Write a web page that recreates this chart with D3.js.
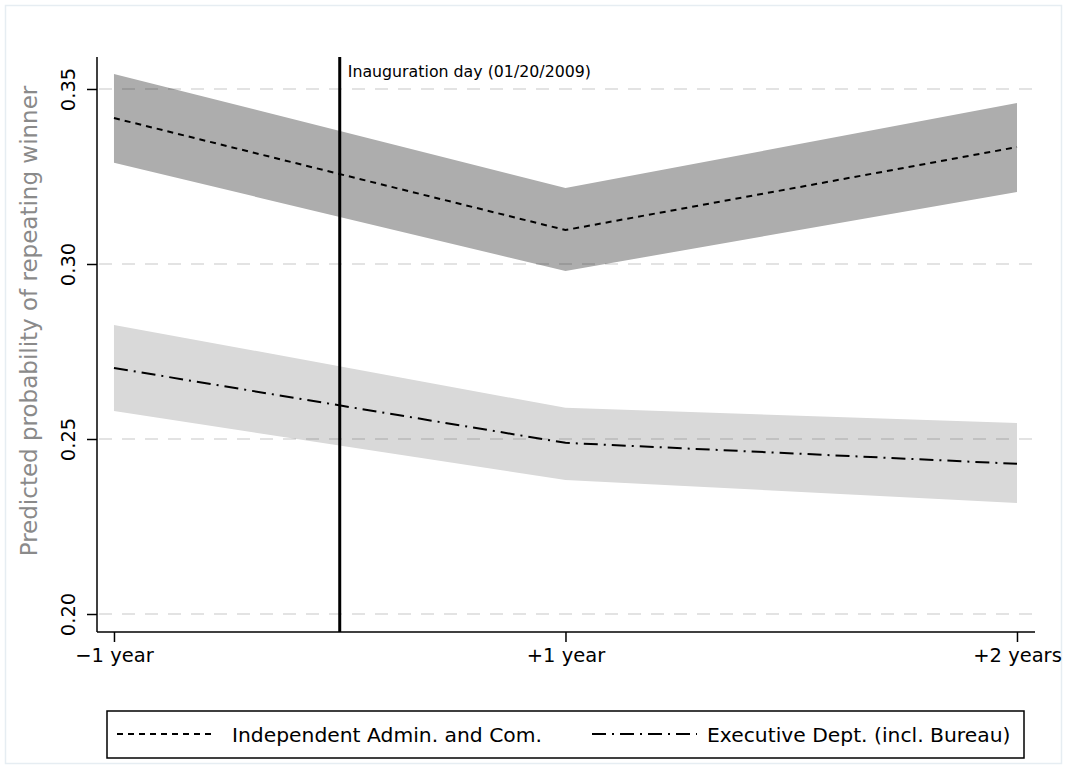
<!DOCTYPE html>
<html>
<head>
<meta charset="utf-8">
<script src="https://cdn.jsdelivr.net/npm/d3@7"></script>
<style>
  html, body { margin: 0; padding: 0; background: #ffffff; }
  svg { display: block; font-family: "DejaVu Sans", Verdana, sans-serif; }
</style>
</head>
<body>
<svg id="chart" width="1067" height="769"></svg>
<script>
// ---- data ----
const categories = ["\u22121 year", "+1 year", "+2 years"];
const catPos = [0, 1, 2];
const indepMean = [0.3417, 0.3097, 0.3334];
const indepLow  = [0.3289, 0.2980, 0.3206];
const indepHigh = [0.3543, 0.3217, 0.3460];
const execMean  = [0.2703, 0.2489, 0.2429];
const execLow   = [0.2580, 0.2383, 0.2317];
const execHigh  = [0.2826, 0.2589, 0.2546];
const yTicks = [0.20, 0.25, 0.30, 0.35];
const inaugPos = 0.5;
const inaugLabel = "Inauguration day (01/20/2009)";
const yTitle = "Predicted probability of repeating winner";
const legendLabels = ["Independent Admin. and Com.", "Executive Dept. (incl. Bureau)"];

// ---- layout ----
const svg = d3.select("#chart");
const plotL = 97, plotR = 1035, plotT = 57, plotB = 632;

const x = d3.scaleLinear().domain([-0.0376, 2.0399]).range([plotL, plotR]);
const y = d3.scaleLinear().domain([0.19486, 0.35914]).range([plotB, plotT]);

// outer frame
svg.append("rect").attr("x", 5.5).attr("y", 5.5).attr("width", 1056).attr("height", 758)
  .attr("fill", "#ffffff").attr("stroke", "#e6edf2").attr("stroke-width", 1.5);

const area = (lo, hi) => d3.area()
  .x((d, i) => x(catPos[i]))
  .y0((d, i) => y(lo[i]))
  .y1((d, i) => y(hi[i]))(catPos);

const line = (vals) => d3.line()
  .x((d, i) => x(catPos[i]))
  .y((d, i) => y(vals[i]))(catPos);

// bands
svg.append("path").attr("d", area(indepLow, indepHigh)).attr("fill", "#adadad");
svg.append("path").attr("d", area(execLow, execHigh)).attr("fill", "#d9d9d9");

// grid
svg.append("g").selectAll("line").data(yTicks).join("line")
  .attr("x1", plotL + 2).attr("x2", plotR)
  .attr("y1", d => y(d)).attr("y2", d => y(d))
  .attr("stroke", "rgba(0,0,0,0.11)").attr("stroke-width", 2)
  .attr("stroke-dasharray", "13,10");

// series lines
svg.append("path").attr("d", line(indepMean)).attr("fill", "none")
  .attr("stroke", "#000").attr("stroke-width", 2).attr("stroke-dasharray", "6,5");
svg.append("path").attr("d", line(execMean)).attr("fill", "none")
  .attr("stroke", "#000").attr("stroke-width", 2).attr("stroke-dasharray", "14,6,2,6");

// inauguration line
svg.append("line").attr("x1", x(inaugPos)).attr("x2", x(inaugPos))
  .attr("y1", plotT).attr("y2", plotB).attr("stroke", "#000").attr("stroke-width", 3);
svg.append("text").attr("x", x(inaugPos) + 8).attr("y", 77)
  .attr("font-size", 15.8).attr("fill", "#000").text(inaugLabel);

// y axis
const yAxis = svg.append("g").attr("transform", `translate(${plotL},0)`)
  .call(d3.axisLeft(y).tickValues(yTicks).tickSize(10).tickFormat(d3.format(".2f")));
yAxis.select(".domain").attr("d", `M0,${plotT}V${plotB}`).attr("stroke-width", 1.5);
yAxis.selectAll(".tick line").attr("stroke-width", 1.5);
yAxis.selectAll(".tick text")
  .attr("transform", "rotate(-90)").attr("x", 0).attr("y", -22).attr("dy", 0)
  .attr("text-anchor", "middle").attr("font-size", 19.5).attr("fill", "#000")
  .attr("font-family", "DejaVu Sans");

// x axis
const xAxis = svg.append("g").attr("transform", `translate(0,${plotB})`)
  .call(d3.axisBottom(x).tickValues(catPos).tickSize(10).tickFormat((d, i) => categories[i]));
xAxis.select(".domain").attr("d", `M${plotL},0H${plotR}`).attr("stroke-width", 1.5);
xAxis.selectAll(".tick line").attr("stroke-width", 1.5);
xAxis.selectAll(".tick text").attr("y", 30).attr("dy", 0)
  .attr("font-size", 19.5).attr("fill", "#000").attr("font-family", "DejaVu Sans");

// y title
svg.append("text").attr("transform", `translate(37,321) rotate(-90)`)
  .attr("text-anchor", "middle").attr("font-size", 23).attr("fill", "#8a8a8a").text(yTitle);

// legend
const lg = svg.append("g");
lg.append("rect").attr("x", 107).attr("y", 711).attr("width", 917).attr("height", 47)
  .attr("fill", "#fff").attr("stroke", "#000").attr("stroke-width", 1.5);
const legendItems = [
  { x0: 117, x1: 215, tx: 232, dash: "6,5", label: legendLabels[0] },
  { x0: 592, x1: 697, tx: 707, dash: "14,6,2,6", label: legendLabels[1] }
];
legendItems.forEach(it => {
  lg.append("line").attr("x1", it.x0).attr("x2", it.x1).attr("y1", 734).attr("y2", 734)
    .attr("stroke", "#000").attr("stroke-width", 2).attr("stroke-dasharray", it.dash);
  lg.append("text").attr("x", it.tx).attr("y", 742).attr("font-size", 20.3)
    .attr("fill", "#000").text(it.label);
});
</script>
</body>
</html>
